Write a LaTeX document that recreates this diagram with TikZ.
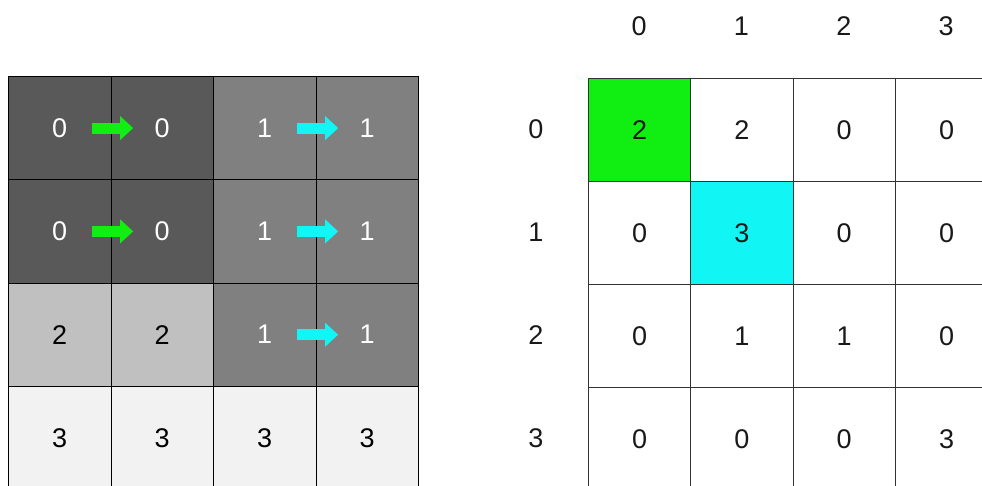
\documentclass[tikz,border=0pt]{standalone}
\usepackage{fontspec}
\setmainfont{Liberation Sans}
\usetikzlibrary{arrows.meta}
\definecolor{dk}{HTML}{595959}
\definecolor{md}{HTML}{808080}
\definecolor{lt}{HTML}{C0C0C0}
\definecolor{vl}{HTML}{F2F2F2}
\definecolor{gr}{HTML}{11EE11}
\definecolor{cy}{HTML}{11F5F5}
\begin{document}
\begin{tikzpicture}[x=1pt,y=-1pt,
  lcell/.style={draw=black, line width=0.9pt, minimum width=102.5pt, minimum height=103.3pt,
    inner sep=0pt, anchor=north west, font=\fontsize{27}{32}\selectfont},
  rcell/.style={draw=black!80, line width=0.9pt, minimum width=102.3pt, minimum height=103pt,
    inner sep=0pt, anchor=north west, font=\fontsize{27}{32}\selectfont, text=black!90},
  lab/.style={inner sep=0pt, font=\fontsize{27}{32}\selectfont, text=black!90},
  blockarrow/.style={line width=11pt, shorten <=32pt, shorten >=29pt,
    -{Triangle[length=13pt,width=23pt]}}]
\clip (0,0) rectangle (982,486);
\fill[white] (0,0) rectangle (982,486);
% left grid
\foreach \r/\row in {0/{dk/white/0,dk/white/0,md/white/1,md/white/1},
                     1/{dk/white/0,dk/white/0,md/white/1,md/white/1},
                     2/{lt/black/2,lt/black/2,md/white/1,md/white/1},
                     3/{vl/black/3,vl/black/3,vl/black/3,vl/black/3}}{
  \foreach \fc/\tc/\v [count=\c from 0] in \row {
    \node[lcell, fill=\fc, text=\tc] (L-\r-\c) at (8+102.5*\c, 76+103.3*\r) {\v};
  }
}
% right grid
\foreach \r/\row in {0/{gr/2,white/2,white/0,white/0},
                     1/{white/0,cy/3,white/0,white/0},
                     2/{white/0,white/1,white/1,white/0},
                     3/{white/0,white/0,white/0,white/3}}{
  \foreach \fc/\v [count=\c from 0] in \row {
    \node[rcell, fill=\fc] (R-\r-\c) at (588+102.3*\c, 78+103*\r) {\v};
  }
}
% labels
\foreach \c in {0,1,2,3}{
  \node[lab] (H-\c) at (639.15+102.3*\c, 26) {\c};
  \node[lab] (V-\c) at (536, 129.5+103*\c) {\c};
}
% arrows
\draw[blockarrow, gr] (L-0-0.center) -- (L-0-1.center);
\draw[blockarrow, gr] (L-1-0.center) -- (L-1-1.center);
\draw[blockarrow, cy] (L-0-2.center) -- (L-0-3.center);
\draw[blockarrow, cy] (L-1-2.center) -- (L-1-3.center);
\draw[blockarrow, cy] (L-2-2.center) -- (L-2-3.center);
\end{tikzpicture}
\end{document}
